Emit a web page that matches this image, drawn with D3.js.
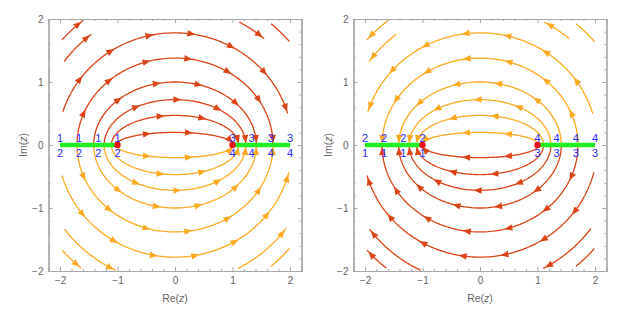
<!DOCTYPE html>
<html>
<head>
<meta charset="utf-8">
<script src="https://cdn.jsdelivr.net/npm/d3@7"></script>
<style>
  body { margin: 0; background: #fff; }
  text { font-family: "Liberation Sans", Arial, sans-serif; }
</style>
</head>
<body>
<svg width="623" height="315"></svg>
<script>
// semi-minor axes of the confocal ellipses (foci at -1 and 1) running cut to cut
var fullB = [0.2, 0.47, 0.72, 1.0, 1.38];
// partial streamlines: [b, x start, x end]
var upperArcs = [[1.78, -1.95, 1.96], [2.2, -1.93, -1.45], [2.2, 1.12, 1.55], [2.47, -1.965, -1.6], [2.47, 1.67, 1.99]];
var lowerArcs = [[1.78, -1.965, 1.98], [2.2, -1.92, -1.03], [2.2, 1.1, 1.93], [2.47, -1.965, -1.63], [2.47, 1.67, 1.99]];
// branch cuts and branch points
var cutLeftX = [-2, -1.6667, -1.3333, -1];
var cutRightX = [1, 1.3333, 1.6667, 2];
var branchX = [-1, 1];
// sheet labels [left cut above, left cut below, right cut above, right cut below]
var sheetLabels = [["1", "2", "3", "4"], ["2", "1", "4", "3"]];
var majorTicks = [-2, -1, 0, 1, 2];
var minorTicks = [-1.8, -1.6, -1.4, -1.2, -0.8, -0.6, -0.4, -0.2, 0.2, 0.4, 0.6, 0.8, 1.2, 1.4, 1.6, 1.8];

var RED = "#dc4418", ORANGE = "#fdaa22", GRAY = "#a8a8a8", LABEL = "#666";

var svg = d3.select("svg");
var panels = [
    {ox: 0, upper: RED, lower: ORANGE, dir: 1, labels: sheetLabels[0]},
    {ox: 305, upper: ORANGE, lower: RED, dir: -1, labels: sheetLabels[1]}
];

function ellipsePoints(b, x0, x1, sign, dir) {
    var a = Math.sqrt(1 + b * b);
    var t0 = Math.acos(Math.max(-1, Math.min(1, x0 / a)));
    var t1 = Math.acos(Math.max(-1, Math.min(1, x1 / a)));
    var pts = [];
    for (var i = 0; i <= 120; i++) {
        var t = t0 + (t1 - t0) * i / 120;
        pts.push([a * Math.cos(t), sign * b * Math.sin(t)]);
    }
    if (dir < 0) pts.reverse();
    return pts;
}

panels.forEach(function(p, pi) {
    var x = d3.scaleLinear().domain([-2.2, 2.2]).range([48.5 + p.ox, 301.5 + p.ox]);
    var y = d3.scaleLinear().domain([-2, 2]).range([271, 19]);
    var g = svg.append("g");

    var clipId = "clip" + pi;
    svg.append("clipPath").attr("id", clipId).append("rect")
        .attr("x", x(-2.2)).attr("y", y(2)).attr("width", x(2.2) - x(-2.2)).attr("height", y(-2) - y(2));

    // streamlines
    var lines = [];
    fullB.forEach(function(b) {
        var a = Math.sqrt(1 + b * b);
        lines.push({pts: ellipsePoints(b, -a, a, 1, p.dir), color: p.upper});
        lines.push({pts: ellipsePoints(b, -a, a, -1, p.dir), color: p.lower});
    });
    upperArcs.forEach(function(s) { lines.push({pts: ellipsePoints(s[0], s[1], s[2], 1, p.dir), color: p.upper}); });
    lowerArcs.forEach(function(s) { lines.push({pts: ellipsePoints(s[0], s[1], s[2], -1, p.dir), color: p.lower}); });

    var line = d3.line().x(function(d) { return x(d[0]); }).y(function(d) { return y(d[1]); });
    var sg = g.append("g").attr("clip-path", "url(#" + clipId + ")");
    lines.forEach(function(l) {
        var path = sg.append("path").attr("d", line(l.pts))
            .attr("fill", "none").attr("stroke", l.color).attr("stroke-width", 1.3);
        var node = path.node();
        var len = node.getTotalLength();
        for (var s = len - 2; s > 24; s -= 42) {
            var tip = node.getPointAtLength(s);
            var back = node.getPointAtLength(Math.max(0, s - 2));
            var ang = Math.atan2(tip.y - back.y, tip.x - back.x) * 180 / Math.PI;
            sg.append("path").attr("d", "M0,0L-8,-3.3L-8,3.3Z")
                .attr("fill", l.color)
                .attr("transform", "translate(" + tip.x + "," + tip.y + ") rotate(" + ang + ")");
        }
    });

    // branch cuts
    [cutLeftX, cutRightX].forEach(function(c) {
        g.append("line").attr("x1", x(c[0])).attr("x2", x(c[c.length - 1]))
            .attr("y1", y(0)).attr("y2", y(0))
            .attr("stroke", "#22ee22").attr("stroke-width", 4.5);
    });
    g.selectAll("circle.bp").data(branchX).enter().append("circle")
        .attr("cx", function(d) { return x(d); }).attr("cy", y(0)).attr("r", 3.2)
        .attr("fill", "#ee1111");

    // sheet labels
    function sheetText(xs, above, below) {
        xs.forEach(function(v) {
            g.append("text").attr("x", x(v)).attr("y", y(0) - 3.5).attr("text-anchor", "middle")
                .attr("font-size", 11).attr("fill", "#2a2aff").text(above);
            g.append("text").attr("x", x(v)).attr("y", y(0) + 12).attr("text-anchor", "middle")
                .attr("font-size", 11).attr("fill", "#2a2aff").text(below);
        });
    }
    sheetText(cutLeftX, p.labels[0], p.labels[1]);
    sheetText(cutRightX, p.labels[2], p.labels[3]);

    // frame and ticks
    function styleAxis(sel) {
        sel.select(".domain").attr("stroke", GRAY).attr("stroke-width", 1.2);
        sel.selectAll(".tick line").attr("stroke", GRAY);
        sel.selectAll("text").attr("fill", LABEL).attr("font-size", 10).attr("font-family", "Liberation Sans, Arial, sans-serif");
    }
    var fmt = d3.format("d");
    g.append("g").attr("transform", "translate(0," + y(-2) + ")")
        .call(d3.axisBottom(x).tickValues(majorTicks).tickSize(-4).tickPadding(6).tickFormat(fmt)).call(styleAxis);
    g.append("g").attr("transform", "translate(0," + y(-2) + ")")
        .call(d3.axisBottom(x).tickValues(minorTicks).tickSize(-2).tickFormat("")).call(styleAxis);
    g.append("g").attr("transform", "translate(0," + y(2) + ")")
        .call(d3.axisTop(x).tickValues(majorTicks).tickSize(-4).tickFormat("")).call(styleAxis);
    g.append("g").attr("transform", "translate(0," + y(2) + ")")
        .call(d3.axisTop(x).tickValues(minorTicks).tickSize(-2).tickFormat("")).call(styleAxis);
    g.append("g").attr("transform", "translate(" + x(-2.2) + ",0)")
        .call(d3.axisLeft(y).tickValues(majorTicks).tickSize(-4).tickPadding(5).tickFormat(fmt)).call(styleAxis);
    g.append("g").attr("transform", "translate(" + x(-2.2) + ",0)")
        .call(d3.axisLeft(y).tickValues(minorTicks).tickSize(-2).tickFormat("")).call(styleAxis);
    g.append("g").attr("transform", "translate(" + x(2.2) + ",0)")
        .call(d3.axisRight(y).tickValues(majorTicks).tickSize(-4).tickFormat("")).call(styleAxis);
    g.append("g").attr("transform", "translate(" + x(2.2) + ",0)")
        .call(d3.axisRight(y).tickValues(minorTicks).tickSize(-2).tickFormat("")).call(styleAxis);

    // axis titles
    var xt = g.append("text").attr("x", x(0)).attr("y", 302).attr("text-anchor", "middle")
        .attr("font-size", 10.5).attr("fill", LABEL);
    xt.append("tspan").text("Re(");
    xt.append("tspan").attr("font-style", "italic").text("z");
    xt.append("tspan").text(")");
    var yt = g.append("text").attr("transform", "translate(" + (x(-2.2) - 22) + "," + y(0) + ") rotate(-90)")
        .attr("text-anchor", "middle").attr("font-size", 10.5).attr("fill", LABEL);
    yt.append("tspan").text("Im(");
    yt.append("tspan").attr("font-style", "italic").text("z");
    yt.append("tspan").text(")");
});
</script>
</body>
</html>
